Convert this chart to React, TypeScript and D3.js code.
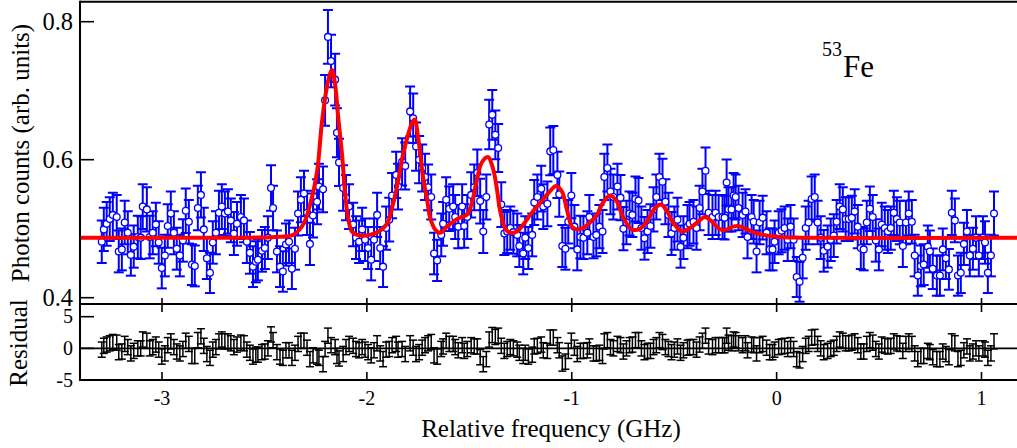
import React from 'react';
import * as d3 from 'd3';

// ---------- data ----------
const FREQ = [
  -3.294,-3.284,-3.270,-3.255,-3.240,-3.221,-3.211,-3.196,-3.182,-3.167,-3.152,-3.138,-3.118,-3.104,-3.094,-3.074,-3.060,-3.045,-3.030,-3.016,
  -3.001,-2.986,-2.972,-2.957,-2.942,-2.928,-2.913,-2.898,-2.884,-2.869,-2.854,-2.840,-2.825,-2.810,-2.796,-2.781,-2.766,-2.752,-2.737,-2.722,
  -2.708,-2.693,-2.678,-2.664,-2.649,-2.634,-2.615,-2.600,-2.586,-2.571,-2.556,-2.542,-2.532,-2.512,-2.498,-2.483,-2.468,-2.458,-2.439,-2.424,
  -2.410,-2.395,-2.380,-2.366,-2.351,-2.336,-2.322,-2.307,-2.292,-2.278,-2.263,-2.243,-2.234,-2.214,-2.204,-2.190,-2.175,-2.155,-2.146,-2.136,
  -2.116,-2.102,-2.087,-2.067,-2.053,-2.038,-2.023,-2.009,-1.994,-1.979,-1.965,-1.950,-1.935,-1.921,-1.906,-1.891,-1.877,-1.857,-1.848,-1.828,
  -1.813,-1.789,-1.774,-1.760,-1.745,-1.730,-1.716,-1.701,-1.686,-1.672,-1.657,-1.637,-1.628,-1.613,-1.598,-1.579,-1.569,-1.554,-1.535,-1.525,
  -1.510,-1.491,-1.476,-1.461,-1.447,-1.432,-1.417,-1.403,-1.388,-1.373,-1.359,-1.344,-1.329,-1.315,-1.300,-1.285,-1.266,-1.256,-1.237,-1.227,
  -1.212,-1.193,-1.183,-1.168,-1.149,-1.139,-1.119,-1.105,-1.090,-1.070,-1.061,-1.046,-1.031,-1.017,-1.002,-0.987,-0.973,-0.958,-0.943,-0.924,
  -0.914,-0.894,-0.880,-0.865,-0.850,-0.841,-0.826,-0.811,-0.797,-0.777,-0.762,-0.748,-0.733,-0.718,-0.704,-0.689,-0.674,-0.660,-0.645,-0.630,
  -0.616,-0.601,-0.587,-0.572,-0.557,-0.543,-0.528,-0.513,-0.499,-0.484,-0.469,-0.455,-0.435,-0.425,-0.406,-0.391,-0.376,-0.362,-0.347,-0.332,
  -0.313,-0.298,-0.283,-0.264,-0.254,-0.244,-0.235,-0.220,-0.210,-0.200,-0.186,-0.166,-0.152,-0.142,-0.122,-0.112,-0.098,-0.083,-0.068,-0.049,
  -0.034,-0.020,-0.010,0.010,0.024,0.039,0.054,0.068,0.083,0.098,0.112,0.127,0.142,0.156,0.171,0.186,0.200,0.215,0.230,0.249,
  0.264,0.279,0.293,0.308,0.323,0.337,0.352,0.367,0.381,0.396,0.411,0.425,0.440,0.455,0.469,0.484,0.499,0.513,0.528,0.543,
  0.557,0.572,0.587,0.601,0.616,0.631,0.645,0.660,0.674,0.689,0.704,0.718,0.738,0.748,0.762,0.782,0.797,0.811,0.826,0.841,
  0.855,0.870,0.885,0.899,0.914,0.929,0.943,0.958,0.973,0.987,1.007,1.017,1.031,1.046,1.061,
];

const COUNTS = [
  0.481,0.499,0.507,0.514,0.520,0.517,0.467,0.470,0.509,0.494,0.462,0.474,0.488,0.487,0.532,0.528,0.488,0.494,0.506,0.480,
  0.443,0.461,0.504,0.522,0.494,0.471,0.461,0.483,0.526,0.510,0.448,0.446,0.530,0.549,0.499,0.457,0.436,0.480,0.494,0.523,
  0.532,0.522,0.525,0.512,0.493,0.507,0.517,0.512,0.481,0.465,0.445,0.452,0.455,0.468,0.472,0.487,0.559,0.530,0.467,0.445,
  0.438,0.477,0.481,0.442,0.471,0.522,0.542,0.551,0.523,0.478,0.519,0.539,0.561,0.557,0.686,0.778,0.743,0.716,0.639,0.596,
  0.559,0.545,0.532,0.506,0.487,0.481,0.499,0.484,0.472,0.455,0.484,0.520,0.472,0.445,0.501,0.513,0.548,0.578,0.561,0.597,
  0.591,0.670,0.660,0.619,0.600,0.588,0.575,0.560,0.546,0.464,0.454,0.491,0.507,0.542,0.529,0.532,0.517,0.503,0.532,0.504,
  0.517,0.549,0.560,0.581,0.540,0.496,0.546,0.651,0.665,0.636,0.617,0.535,0.493,0.496,0.501,0.495,0.491,0.475,0.464,0.487,
  0.472,0.491,0.538,0.546,0.558,0.532,0.536,0.612,0.614,0.578,0.550,0.475,0.471,0.510,0.548,0.503,0.470,0.488,0.487,0.494,
  0.517,0.488,0.491,0.503,0.496,0.575,0.588,0.554,0.546,0.561,0.545,0.500,0.509,0.522,0.520,0.543,0.541,0.501,0.486,0.496,
  0.504,0.528,0.546,0.575,0.568,0.539,0.520,0.493,0.501,0.513,0.474,0.487,0.503,0.507,0.510,0.501,0.530,0.554,0.584,0.523,
  0.517,0.523,0.517,0.517,0.516,0.567,0.528,0.528,0.548,0.546,0.530,0.520,0.525,0.488,0.517,0.510,0.467,0.509,0.516,0.494,
  0.470,0.470,0.481,0.494,0.497,0.501,0.484,0.503,0.484,0.430,0.423,0.458,0.501,0.509,0.543,0.546,0.509,0.487,0.468,0.474,
  0.484,0.490,0.510,0.532,0.528,0.514,0.514,0.516,0.525,0.503,0.472,0.470,0.509,0.529,0.517,0.483,0.470,0.506,0.501,0.496,
  0.501,0.523,0.514,0.509,0.475,0.509,0.522,0.510,0.461,0.432,0.446,0.448,0.474,0.467,0.442,0.432,0.432,0.470,0.457,0.441,
  0.523,0.512,0.432,0.436,0.478,0.496,0.461,0.471,0.487,0.461,0.487,0.480,0.436,0.461,0.522,
];

const RESIDUAL = [
  -0.2,0.4,0.6,0.8,1.0,0.9,-0.6,-0.5,0.7,0.2,-0.8,-0.4,0.0,0.0,1.4,1.2,0.0,0.2,0.6,-0.2,
  -1.3,-0.8,0.5,1.1,0.2,-0.5,-0.8,-0.1,1.2,0.7,-1.2,-1.2,1.3,1.9,0.4,-0.9,-1.5,-0.2,0.2,1.1,
  1.4,1.1,1.1,0.8,0.2,0.6,0.9,0.8,-0.2,-0.7,-1.3,-1.0,-1.0,-0.6,-0.5,0.0,2.2,1.3,-0.6,-1.3,
  -1.5,-0.3,-0.3,-1.5,-0.7,0.7,1.2,1.2,0.1,-1.7,-1.1,-1.3,-1.5,-2.5,-0.1,2.0,0.5,0.2,-1.2,-1.6,
  -0.9,0.2,0.7,0.4,-0.1,-0.3,0.2,-0.2,-0.6,-1.1,-0.3,0.8,-0.8,-1.7,-0.2,-0.1,0.5,0.7,-0.2,-0.1,
  -0.9,0.8,0.1,-0.9,-0.6,0.1,0.5,0.8,1.0,-1.1,-1.3,-0.1,0.3,1.2,0.7,0.7,0.2,-0.3,0.5,-0.4,
  -0.1,0.5,0.3,0.3,-1.4,-2.5,-1.7,1.4,2.1,1.8,2.0,0.4,-0.4,-0.1,0.2,0.0,-0.2,-0.7,-1.2,-0.7,
  -1.3,-1.0,0.3,0.4,0.6,-0.3,-0.4,1.7,1.7,0.5,-0.3,-2.4,-2.1,-0.4,1.2,0.1,-0.9,-0.4,-0.4,-0.3,
  0.3,-0.8,-0.8,-0.7,-1.2,1.1,1.3,0.2,0.0,0.7,0.5,-0.5,0.0,0.5,0.6,1.3,1.3,0.0,-0.6,-0.4,
  -0.4,0.2,0.5,1.3,1.0,0.2,-0.1,-0.6,-0.2,0.3,-0.7,-0.3,0.1,0.2,0.2,-0.2,0.6,1.2,2.0,0.3,
  0.2,0.5,0.5,0.5,0.5,2.0,0.9,0.8,1.4,1.3,0.8,0.5,0.8,-0.3,0.6,0.5,-0.8,0.5,0.7,0.1,
  -0.6,-0.6,-0.2,0.2,0.3,0.4,-0.1,0.5,-0.1,-1.7,-1.9,-0.9,0.4,0.7,1.7,1.8,0.7,0.0,-0.6,-0.4,
  -0.1,0.1,0.7,1.4,1.2,0.8,0.8,0.9,1.1,0.5,-0.5,-0.5,0.7,1.3,0.9,-0.1,-0.5,0.6,0.4,0.3,
  0.4,1.1,0.8,0.7,-0.4,0.7,1.1,0.7,-0.8,-1.7,-1.2,-1.2,-0.4,-0.6,-1.4,-1.7,-1.7,-0.5,-0.9,-1.4,
  1.1,0.8,-1.7,-1.5,-0.3,0.3,-0.8,-0.5,0.0,-0.8,0.0,-0.2,-1.5,-0.8,1.1,
];

const FIT_FREQ = [
  -3.400,-2.570,-2.448,-2.360,-2.311,-2.277,-2.243,-2.219,-2.190,-2.170,-2.155,-2.141,-2.121,-2.107,-2.092,-2.073,-2.048,-1.985,-1.926,-1.897,
  -1.873,-1.848,-1.824,-1.799,-1.775,-1.765,-1.755,-1.740,-1.726,-1.706,-1.692,-1.667,-1.643,-1.609,-1.580,-1.546,-1.512,-1.487,-1.463,-1.439,
  -1.409,-1.385,-1.365,-1.351,-1.326,-1.302,-1.268,-1.229,-1.190,-1.141,-1.107,-1.077,-1.048,-1.024,-0.999,-0.975,-0.945,-0.911,-0.877,-0.847,
  -0.813,-0.779,-0.750,-0.706,-0.667,-0.628,-0.593,-0.564,-0.535,-0.506,-0.462,-0.423,-0.384,-0.349,-0.315,-0.276,-0.242,-0.213,-0.188,-0.145,
  -0.105,-0.066,0.017,0.114,1.180,
];
const FIT_VAL = [
  0.487,0.487,0.488,0.491,0.506,0.535,0.583,0.655,0.713,0.730,0.709,0.665,0.607,0.554,0.516,0.496,0.491,0.491,0.499,0.510,
  0.535,0.568,0.607,0.636,0.656,0.658,0.643,0.610,0.575,0.542,0.517,0.499,0.494,0.503,0.510,0.516,0.520,0.538,0.571,0.596,
  0.604,0.588,0.557,0.528,0.501,0.494,0.496,0.509,0.525,0.542,0.554,0.562,0.554,0.528,0.503,0.499,0.501,0.509,0.520,0.538,
  0.548,0.539,0.517,0.499,0.500,0.513,0.530,0.535,0.525,0.509,0.496,0.501,0.510,0.517,0.510,0.499,0.499,0.503,0.504,0.499,
  0.494,0.491,0.488,0.487,0.487,
];

const X_TICKS = [-3, -2, -1, 0, 1];
const Y_TICKS = [0.4, 0.6, 0.8];
const R_TICKS = [-5, 0, 5];

// Poisson-like error scale at the background level
const ERR_BASE = 0.031;
const BASE_LEVEL = 0.49;
const RES_ERR = 1.2;

const FONT = "'Liberation Serif', 'Times New Roman', Times, serif";
const BLUE = '#0000ff';
const RED = '#ff0000';

export default function App() {
  const W = 1017, H = 448;
  const L = 80, R = 1019, TOP = 1.7, MID = 304, BOT = 380;

  const x = d3.scaleLinear().domain([-3, 1]).range([162, 981.5]);
  const y = d3.scaleLinear().domain([0.4, 0.8]).range([297.7, 21.7]);
  const r = d3.scaleLinear().domain([-5, 5]).range([380, 316.7]);

  const pts = FREQ.map((f, i) => {
    const v = COUNTS[i];
    const e = ERR_BASE * Math.sqrt(v / BASE_LEVEL);
    return { f, v, e, res: RESIDUAL[i] };
  });

  const fitLine = d3
    .line<number>()
    .x((_, i) => x(FIT_FREQ[i]))
    .y((d) => y(d))
    .curve(d3.curveCatmullRom.alpha(0.5));

  const cap = 5;
  const rcap = 4;
  const txt = { fontFamily: FONT };

  return (
    <svg
      width={W}
      height={H}
      style={{ position: 'absolute', left: 0, top: 0, background: '#fff' }}
    >
      <defs>
        <clipPath id="topPanel">
          <rect x={L} y={TOP} width={R - L} height={MID - TOP} />
        </clipPath>
        <clipPath id="botPanel">
          <rect x={L} y={MID} width={R - L} height={BOT - MID} />
        </clipPath>
      </defs>
      <rect x={0} y={0} width={W} height={H} fill="#fff" />

      {/* residual zero line */}
      <line x1={L} x2={R} y1={r(0)} y2={r(0)} stroke="#000" strokeWidth={1.6} />

      {/* residual error bars */}
      <g clipPath="url(#botPanel)" stroke="#000" strokeWidth={1.5}>
        {pts.map((p, i) => {
          const cx = x(p.f);
          const y1 = r(p.res - RES_ERR);
          const y2 = r(p.res + RES_ERR);
          return (
            <g key={i}>
              <line x1={cx} x2={cx} y1={y1} y2={y2} />
              <line x1={cx - rcap} x2={cx + rcap} y1={y1} y2={y1} />
              <line x1={cx - rcap} x2={cx + rcap} y1={y2} y2={y2} />
            </g>
          );
        })}
      </g>

      {/* data error bars */}
      <g clipPath="url(#topPanel)" stroke={BLUE} strokeWidth={2}>
        {pts.map((p, i) => {
          const cx = x(p.f);
          const y1 = y(p.v - p.e);
          const y2 = y(p.v + p.e);
          return (
            <g key={i}>
              <line x1={cx} x2={cx} y1={y1} y2={y2} />
              <line x1={cx - cap} x2={cx + cap} y1={y1} y2={y1} />
              <line x1={cx - cap} x2={cx + cap} y1={y2} y2={y2} />
            </g>
          );
        })}
      </g>

      {/* data points */}
      <g fill="#fff" stroke={BLUE} strokeWidth={1.3}>
        {pts.map((p, i) => (
          <circle key={i} cx={x(p.f)} cy={y(p.v)} r={3.4} />
        ))}
      </g>

      {/* fit */}
      <path
        d={fitLine(FIT_VAL) || ''}
        fill="none"
        stroke={RED}
        strokeWidth={4}
        strokeLinejoin="round"
        clipPath="url(#topPanel)"
      />

      {/* frame */}
      <g stroke="#000" strokeWidth={2} fill="none">
        <line x1={L} x2={R} y1={TOP} y2={TOP} />
        <line x1={L} x2={R} y1={MID} y2={MID} />
        <line x1={L} x2={R} y1={BOT} y2={BOT} />
        <line x1={L} x2={L} y1={TOP - 1} y2={BOT + 1} />
      </g>

      {/* ticks */}
      <g stroke="#000" strokeWidth={1.6}>
        {Y_TICKS.map((t) => (
          <line key={t} x1={L} x2={L + 14} y1={y(t)} y2={y(t)} />
        ))}
        {R_TICKS.filter((t) => t !== -5).map((t) => (
          <line key={'r' + t} x1={L} x2={L + 14} y1={r(t)} y2={r(t)} />
        ))}
        {X_TICKS.map((t) => (
          <g key={'x' + t}>
            <line x1={x(t)} x2={x(t)} y1={MID - 6} y2={MID + 8} />
            <line x1={x(t)} x2={x(t)} y1={BOT - 8} y2={BOT} />
          </g>
        ))}
      </g>

      {/* tick labels */}
      <g style={txt} fill="#000">
        {Y_TICKS.map((t) => (
          <text key={t} x={73} y={y(t) + 8} fontSize={24.5} textAnchor="end" style={txt}>
            {d3.format('.1f')(t)}
          </text>
        ))}
        {R_TICKS.map((t) => (
          <text key={'r' + t} x={73} y={r(t) + 6.5} fontSize={20} textAnchor="end" style={txt}>
            {String(t)}
          </text>
        ))}
        {X_TICKS.map((t) => (
          <text key={'x' + t} x={x(t)} y={405} fontSize={20} textAnchor="middle" style={txt}>
            {String(t)}
          </text>
        ))}
      </g>

      {/* axis titles */}
      <g fill="#000">
        <text x={551} y={437} fontSize={25} textAnchor="middle" style={txt}>
          Relative frequency (GHz)
        </text>
        <text
          transform="translate(29,153) rotate(-90)"
          fontSize={25}
          textAnchor="middle"
          style={txt}
        >
          Photon counts (arb. units)
        </text>
        <text
          transform="translate(27,343) rotate(-90)"
          fontSize={25}
          textAnchor="middle"
          style={txt}
        >
          Residual
        </text>
        <text x={822} y={56} fontSize={20} style={txt}>
          53
        </text>
        <text x={843} y={77} fontSize={31} style={txt}>
          Fe
        </text>
      </g>
    </svg>
  );
}
